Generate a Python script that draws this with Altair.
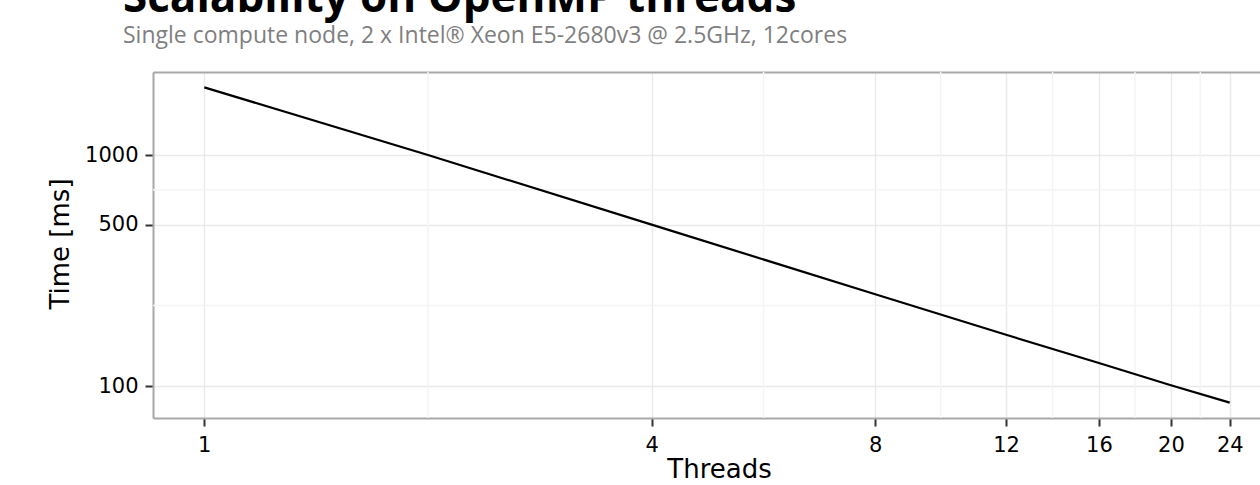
import altair as alt
import pandas as pd

# data
threads = [1, 2, 4, 8, 12, 16, 20, 24]
time_ms = [1962, 1000, 500, 250, 167, 126, 101, 85]

# axis breaks
x_ticks = [1, 4, 8, 12, 16, 20, 24]
y_ticks = [100, 500, 1000]
x_minor = [2, 5.66, 9.8, 13.86, 17.89, 21.91]
y_minor = [223.6, 707.1]
x_domain = [0.853, 26.36]
y_domain = [72.9, 2286]

df = pd.DataFrame({"threads": threads, "time": time_ms})
xm = pd.DataFrame({"x": x_minor})
ym = pd.DataFrame({"y": y_minor})

xscale = alt.Scale(type="log", domain=x_domain, nice=False)
yscale = alt.Scale(type="log", domain=y_domain, nice=False)

BORDER = "#a8a8a8"
LABEL_FONT = "DejaVu Sans"

minor_x = alt.Chart(xm).mark_rule(color="#f4f4f4", strokeWidth=1.5).encode(
    x=alt.X("x:Q", scale=xscale,
            axis=alt.Axis(orient="top", labels=False, ticks=False, grid=False,
                          domain=True, domainColor=BORDER, domainWidth=2, title=None))
)

minor_y = alt.Chart(ym).mark_rule(color="#f4f4f4", strokeWidth=1.5).encode(
    y=alt.Y("y:Q", scale=yscale, axis=None)
)

line = alt.Chart(df).mark_line(color="black", strokeWidth=2.2).encode(
    x=alt.X("threads:Q", scale=xscale,
            axis=alt.Axis(values=x_ticks, format="d", grid=True, gridColor="#eaeaea",
                          gridWidth=1.5, tickColor="#333333", tickWidth=2, tickSize=8,
                          labelFont=LABEL_FONT, labelFontSize=21, labelColor="black",
                          labelPadding=8, labelFlush=False, labelOverlap=False,
                          domainColor=BORDER, domainWidth=2,
                          title="Threads", titleFont=LABEL_FONT, titleFontSize=26,
                          titleFontWeight="normal", titleColor="black",
                          titleX=566, titleY=59, titleBaseline="alphabetic",
                          titleAlign="center")),
    y=alt.Y("time:Q", scale=yscale,
            axis=alt.Axis(values=y_ticks, format="d", grid=True, gridColor="#eaeaea",
                          gridWidth=1.5, tickColor="#333333", tickWidth=2, tickSize=8,
                          labelFont=LABEL_FONT, labelFontSize=21, labelColor="black",
                          labelPadding=7, labelFlush=False, labelOverlap=False,
                          domainColor=BORDER, domainWidth=2,
                          title="Time [ms]", titleFont=LABEL_FONT, titleFontSize=26,
                          titleFontWeight="normal", titleColor="black",
                          titleAngle=270, titleX=-85, titleY=171.5,
                          titleBaseline="alphabetic", titleAlign="center")),
)

chart = alt.layer(minor_x, minor_y, line).resolve_axis(
    x="independent", y="independent"
).properties(
    width=1107,
    height=346,
    autosize=alt.AutoSizeParams(type="none"),
    padding={"left": 153, "top": 72, "right": 0, "bottom": 67},
    title=alt.TitleParams(
        text="Scalability on OpenMP threads",
        subtitle="Single compute node, 2 x Intel\u00ae Xeon E5-2680v3 @ 2.5GHz, 12cores",
        anchor="start",
        frame="group",
        dx=-30,
        offset=23,
        font="Open Sans",
        fontSize=44,
        fontWeight="bold",
        color="black",
        subtitleFont="Open Sans",
        subtitleFontSize=23,
        subtitleColor="#7f7f7f",
        subtitlePadding=4,
    ),
).configure_view(stroke=None).configure(background="white")

chart.save("out.html", embed_options={"renderer": "svg", "actions": False})
